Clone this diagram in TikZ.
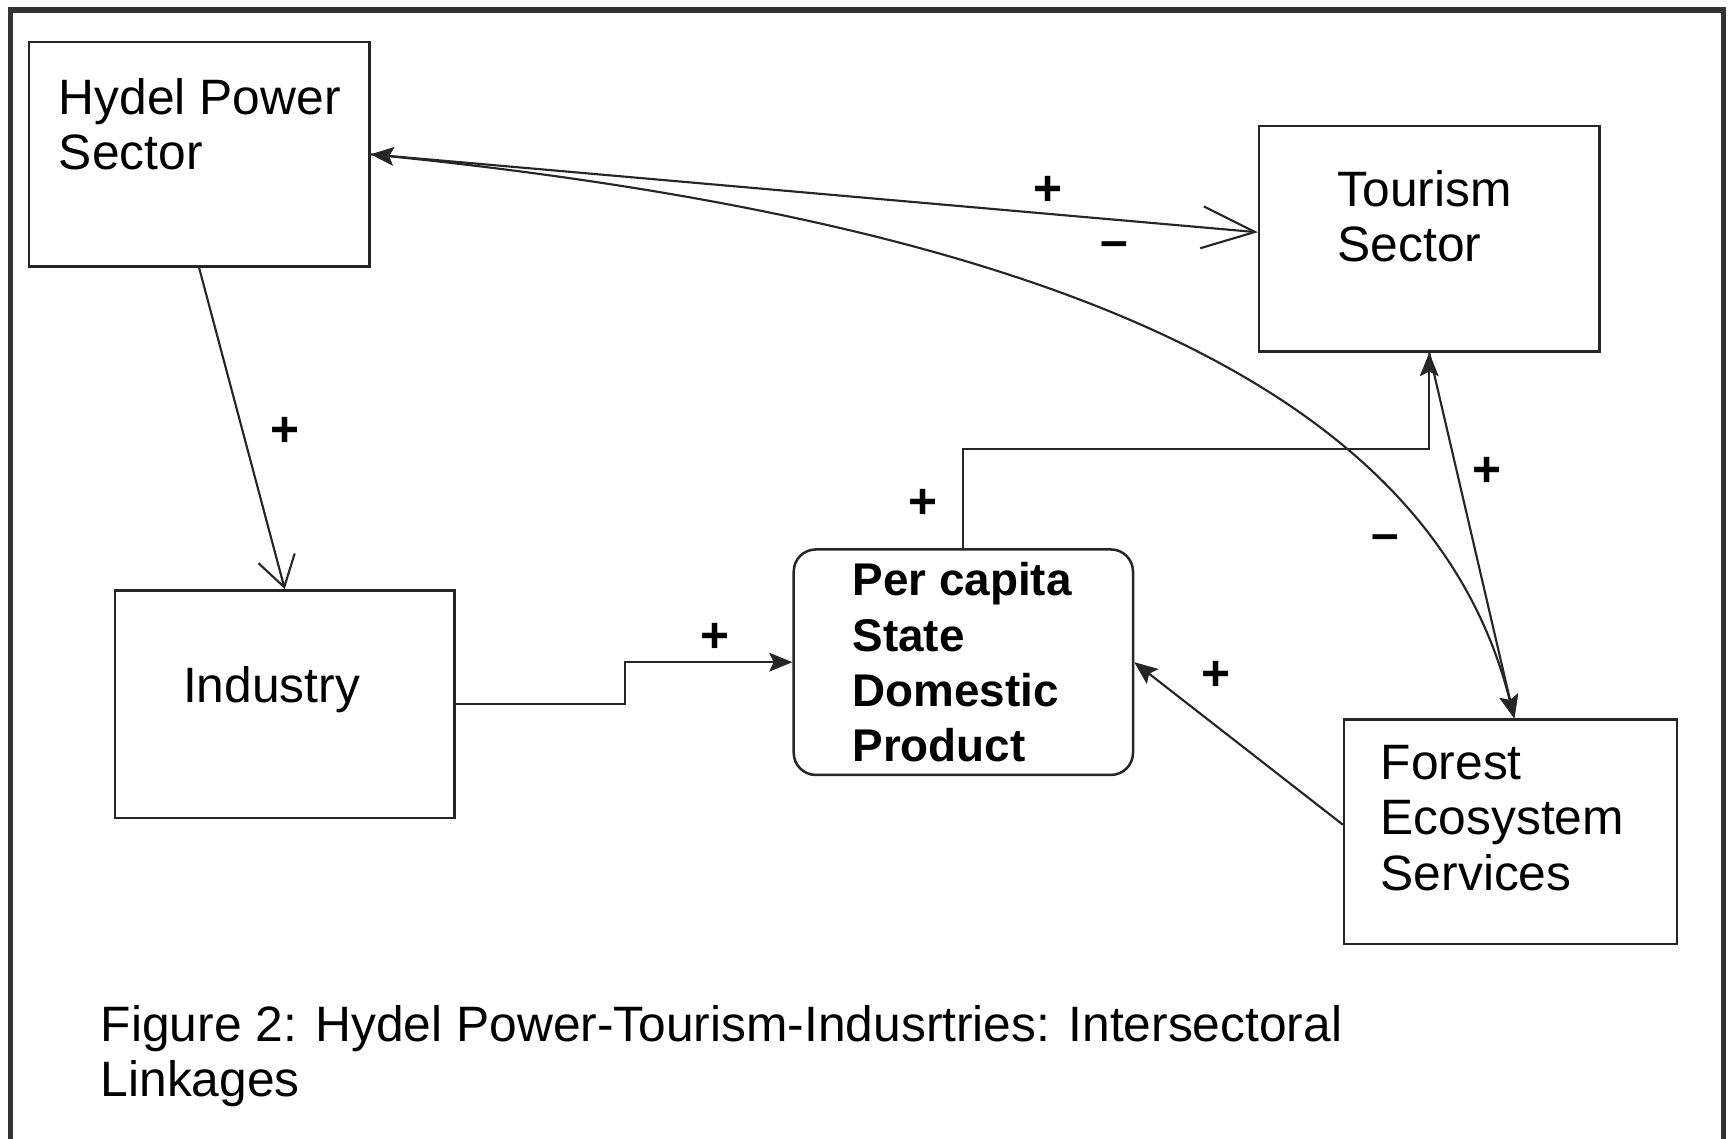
\documentclass[tikz,border=0pt]{standalone}
\usepackage{fontspec}
\setmainfont{Liberation Sans}
\usetikzlibrary{arrows.meta,calc}
\begin{document}
\begin{tikzpicture}[x=0.1mm,y=-0.1mm,
  box/.style={draw=black!85, line width=0.65pt, minimum width=30.8mm, minimum height=20.3mm, anchor=north west, inner sep=0pt},
  txt/.style={font=\fontsize{12.8pt}{14.23pt}\selectfont, inner sep=0pt, align=left, anchor=north west},
  conn/.style={draw=black!85, line width=0.55pt},
  lbl/.style={font=\fontsize{12.8pt}{14pt}\selectfont\bfseries, inner sep=0pt},
  ftip/.tip={Stealth[length=2.1mm,width=1.7mm,inset=0.4mm]}
]
\useasboundingbox (0,0) rectangle (1568,1030);
% outer frame
\draw[black!80, line width=0.5mm] (9.5,1040) -- (9.5,9) -- (1559.5,9) -- (1559.5,1040);

% boxes
\node[box] (hydel) at (25,37) {};
\node[box, minimum height=20.4mm] (tour) at (1138,113) {};
\node[box, minimum width=30.7mm, minimum height=20.6mm] (ind) at (103,533) {};
\node[box, rounded corners=2mm, minimum width=30.7mm, minimum height=20.4mm] (sdp) at (717,496) {};
\node[box, minimum width=30.1mm] (forest) at (1215,650) {};

% texts
\node[txt] (hydelT) at (52.6,70.5) {Hydel Power\\Sector};
\node[txt] (tourT) at (1209.5,153.3) {Tourism\\Sector};
\node[txt, anchor=base west] (indT) at (165,636) {Industry};
\node[txt, font=\fontsize{11.8pt}{14.23pt}\selectfont\bfseries] (sdpT) at (770.6,508.3) {Per capita\\State\\Domestic\\Product};
\node[txt] (forestT) at (1248.6,673.6) {Forest\\Ecosystem\\Services};
\node[txt] (cap) at (90.5,908.8) {Figure 2: Hydel Power-Tourism-Indusrtries: Intersectoral\\Linkages};

% connectors
\draw[conn, ftip-{Straight Barb[length=4.8mm,width=3.8mm]}] (hydel.east) -- ([yshift=0.6mm]tour.west);
\draw[conn, -ftip] (hydel.east) .. controls (985,204) and (1299,367) .. ([xshift=0.35mm]forest.north);
\draw[conn, -ftip] (tour.south) -- ([xshift=0.35mm]forest.north);
\draw[conn, -ftip] (sdp.north) -- ++(0,-90) -| (tour.south);
\draw[conn, -ftip] (ind.east) -- ++(153,0) |- (sdp.west);
\draw[conn, -ftip] ([yshift=0.65mm]forest.west) -- (sdp.east);
\draw[conn, -{Straight Barb[length=2.7mm,width=3.4mm]}] (hydel.south) -- (ind.north);

% polarity labels
\node[lbl] (p1) at (948,173) {+};
\node[lbl] (m1) at (1008,226) {--};
\node[lbl] (p2) at (258,391) {+};
\node[lbl] (p3) at (647,577) {+};
\node[lbl] (p4) at (835,456) {+};
\node[lbl] (p5) at (1345,427) {+};
\node[lbl] (m2) at (1253,491) {--};
\node[lbl] (p6) at (1100,612) {+};
\end{tikzpicture}
\end{document}
